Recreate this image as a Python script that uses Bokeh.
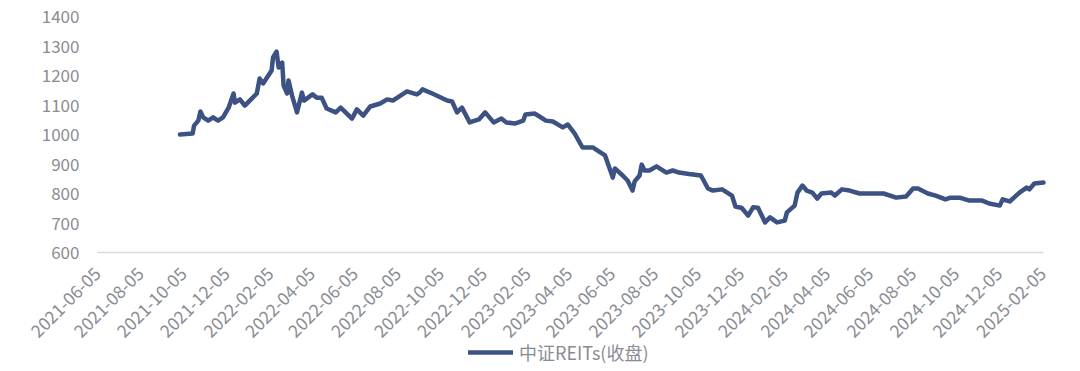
import math
import pandas as pd
from bokeh.plotting import figure
from bokeh.models import (ColumnDataSource, FixedTicker, DatetimeTickFormatter,
                          Range1d, Legend, LegendItem)
from bokeh.embed import file_html
from bokeh.resources import INLINE

# ---- data ----
dates = [
    "2021-09-30", "2021-10-18", "2021-10-20", "2021-10-26", "2021-10-29", "2021-11-02",
    "2021-11-09", "2021-11-16", "2021-11-23", "2021-11-30", "2021-12-08", "2021-12-15",
    "2021-12-17", "2021-12-24", "2021-12-31", "2022-01-07", "2022-01-17", "2022-01-21",
    "2022-01-26", "2022-02-07", "2022-02-09", "2022-02-14", "2022-02-17", "2022-02-22",
    "2022-02-24", "2022-03-01", "2022-03-03", "2022-03-08", "2022-03-15", "2022-03-22",
    "2022-03-25", "2022-04-06", "2022-04-12", "2022-04-19", "2022-04-26", "2022-05-09",
    "2022-05-16", "2022-06-01", "2022-06-08", "2022-06-17", "2022-06-27", "2022-07-11",
    "2022-07-21", "2022-07-29", "2022-08-18", "2022-09-01", "2022-09-05", "2022-09-09",
    "2022-09-23", "2022-10-14", "2022-10-21", "2022-10-28", "2022-11-04", "2022-11-15",
    "2022-11-28", "2022-12-07", "2022-12-19", "2022-12-30", "2023-01-06", "2023-01-18",
    "2023-01-30", "2023-02-02", "2023-02-15", "2023-02-22", "2023-03-03", "2023-03-13",
    "2023-03-27", "2023-04-03", "2023-04-13", "2023-04-24", "2023-05-09", "2023-05-15",
    "2023-05-26", "2023-06-06", "2023-06-09", "2023-06-20", "2023-06-27", "2023-07-04",
    "2023-07-07", "2023-07-14", "2023-07-17", "2023-07-21", "2023-07-28", "2023-08-07",
    "2023-08-21", "2023-08-30", "2023-09-08", "2023-09-22", "2023-10-09", "2023-10-19",
    "2023-10-26", "2023-11-08", "2023-11-22", "2023-11-27", "2023-12-06", "2023-12-15",
    "2023-12-22", "2023-12-29", "2024-01-08", "2024-01-15", "2024-01-25", "2024-02-05",
    "2024-02-08", "2024-02-19", "2024-02-23", "2024-03-01", "2024-03-07", "2024-03-15",
    "2024-03-22", "2024-03-28", "2024-04-11", "2024-04-16", "2024-04-26", "2024-05-07",
    "2024-05-21", "2024-06-04", "2024-06-24", "2024-07-12", "2024-07-26", "2024-08-05",
    "2024-08-12", "2024-08-26", "2024-09-06", "2024-09-20", "2024-09-27", "2024-10-10",
    "2024-10-24", "2024-11-11", "2024-11-21", "2024-12-06", "2024-12-10", "2024-12-20",
    "2025-01-03", "2025-01-13", "2025-01-17", "2025-01-24", "2025-02-06",
]
close = [
    1000, 1003, 1030, 1047, 1078, 1058,
    1047, 1058, 1047, 1058, 1091, 1139,
    1108, 1119, 1098, 1115, 1139, 1190,
    1173, 1217, 1261, 1281, 1227, 1244,
    1166, 1139, 1183, 1132, 1075, 1142,
    1115, 1136, 1125, 1125, 1088, 1075,
    1091, 1054, 1085, 1064, 1095, 1105,
    1119, 1115, 1146, 1136, 1142, 1153,
    1139, 1115, 1112, 1075, 1091, 1041,
    1051, 1075, 1041, 1054, 1041, 1037,
    1047, 1068, 1071, 1061, 1047, 1044,
    1024, 1034, 1003, 956, 956, 946,
    929, 854, 885, 861, 844, 810,
    841, 861, 898, 878, 878, 892,
    871, 878, 871, 866, 861, 817,
    810, 814, 793, 756, 751, 725,
    753, 752, 702, 719, 702, 708,
    736, 759, 803, 827, 810, 803,
    783, 800, 803, 793, 814, 810,
    800, 800, 800, 786, 790, 817,
    817, 800, 793, 780, 786, 786,
    776, 776, 766, 759, 780, 773,
    803, 820, 814, 834, 837,
]
tick_labels = [
    "2021-06-05", "2021-08-05", "2021-10-05", "2021-12-05", "2022-02-05", "2022-04-05",
    "2022-06-05", "2022-08-05", "2022-10-05", "2022-12-05", "2023-02-05", "2023-04-05",
    "2023-06-05", "2023-08-05", "2023-10-05", "2023-12-05", "2024-02-05", "2024-04-05",
    "2024-06-05", "2024-08-05", "2024-10-05", "2024-12-05", "2025-02-05",
]
y_ticks = [600, 700, 800, 900, 1000, 1100, 1200, 1300, 1400]
series_name = "中证REITs(收盘)"
x_start, x_end = "2021-06-05", "2025-02-06"

# ---- layout (pixels): one frame covering the whole canvas, axes pinned inside ----
W, H = 1080, 371
PL, PR, PT, PB = 97, 1043, 16, 252     # plot-area edges in pixels
t0 = pd.Timestamp(x_start).value / 1e6
t1 = pd.Timestamp(x_end).value / 1e6
xs = (t1 - t0) / (PR - PL)
Y_MIN, Y_MAX = y_ticks[0], y_ticks[-1]
ys = (Y_MAX - Y_MIN) / (PB - PT)

src = ColumnDataSource(dict(x=pd.to_datetime(dates), y=close))
tick_ms = [pd.Timestamp(t).value / 1e6 for t in tick_labels]

p = figure(frame_width=W, frame_height=H, x_axis_type="datetime",
           output_backend="svg", toolbar_location=None,
           x_range=Range1d(t0 - PL * xs, t1 + (W - PR) * xs),
           y_range=Range1d(Y_MIN - (H - PB) * ys, Y_MAX + PT * ys),
           min_border_left=0, min_border_right=0, min_border_top=0,
           min_border_bottom=0)
p.outline_line_color = None
p.xgrid.visible = False
p.ygrid.visible = False

r = p.line("x", "y", source=src, line_color="#3c5282", line_width=4.5,
           line_join="round", line_cap="round")

tick_color = "#8a8d94"
font = "Noto Sans CJK SC"

p.xaxis.fixed_location = Y_MIN
p.xaxis.bounds = (t0, t1)
p.xaxis.ticker = FixedTicker(ticks=tick_ms)
fmt = "%Y-%m-%d"
p.xaxis.formatter = DatetimeTickFormatter(milliseconds=fmt, seconds=fmt, minsec=fmt,
                                          minutes=fmt, hourmin=fmt, hours=fmt, days=fmt,
                                          months=fmt, years=fmt)
p.xaxis.major_label_orientation = math.pi / 4
p.xaxis.axis_line_color = "#d9d9d9"
p.xaxis.axis_line_width = 1.5
p.xaxis.major_tick_line_color = None
p.xaxis.minor_tick_line_color = None
p.xaxis.major_label_text_color = tick_color
p.xaxis.major_label_text_font = font
p.xaxis.major_label_text_font_size = "17.5px"
p.xaxis.major_label_standoff = 12

p.yaxis.fixed_location = t0
p.yaxis.bounds = (Y_MIN, Y_MAX)
p.yaxis.ticker = FixedTicker(ticks=y_ticks)
p.yaxis.axis_line_color = None
p.yaxis.major_tick_line_color = None
p.yaxis.minor_tick_line_color = None
p.yaxis.major_label_text_color = tick_color
p.yaxis.major_label_text_font = font
p.yaxis.major_label_text_font_size = "17px"
p.yaxis.major_label_standoff = 12

legend = Legend(items=[LegendItem(label=series_name, renderers=[r])],
                location=(468, 6), orientation="horizontal",
                label_text_font=font, label_text_font_size="18px",
                label_text_color=tick_color, glyph_width=45, glyph_height=20,
                label_height=20,
                border_line_color=None, background_fill_alpha=0,
                padding=0, margin=0, spacing=0, label_standoff=6)
p.add_layout(legend, "center")

open("out.html", "w").write(file_html(p, INLINE))
